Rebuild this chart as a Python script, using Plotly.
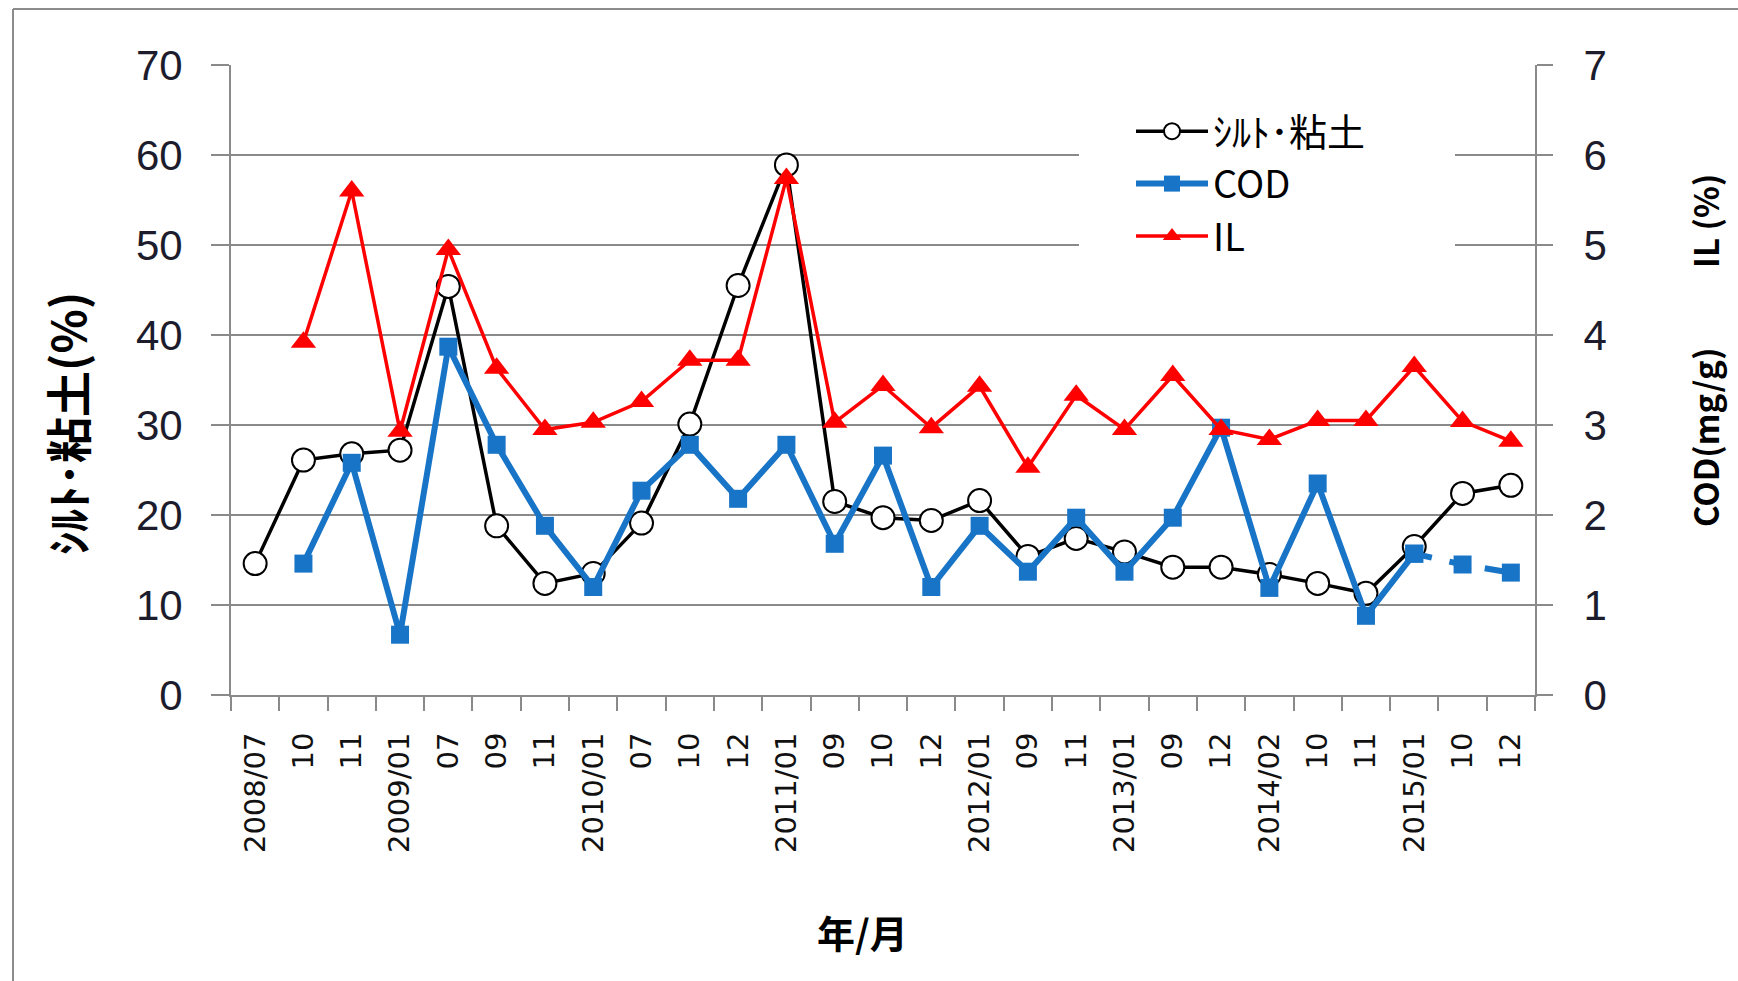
import plotly.graph_objects as go

DATES = ["2008/07", "2008/10", "2008/11", "2009/01", "2009/07", "2009/09", "2009/11",
         "2010/01", "2010/07", "2010/10", "2010/12", "2011/01", "2011/09", "2011/10",
         "2011/12", "2012/01", "2012/09", "2012/11", "2013/01", "2013/09", "2013/12",
         "2014/02", "2014/10", "2014/11", "2015/01", "2015/10", "2015/12"]
TICK_LABELS = ["2008/07", "10", "11", "2009/01", "07", "09", "11",
               "2010/01", "07", "10", "12", "2011/01", "09", "10",
               "12", "2012/01", "09", "11", "2013/01", "09", "12",
               "2014/02", "10", "11", "2015/01", "10", "12"]
SILT = [14.6, 26.1, 26.8, 27.2, 45.4, 18.8, 12.4, 13.5, 19.1, 30.1, 45.5, 58.9, 21.5, 19.7,
        19.4, 21.6, 15.4, 17.4, 15.9, 14.2, 14.2, 13.4, 12.4, 11.3, 16.5, 22.4, 23.3]
COD = [None, 1.46, 2.58, 0.67, 3.87, 2.78, 1.88, 1.20, 2.27, 2.78, 2.18, 2.78, 1.68, 2.66,
       1.20, 1.88, 1.37, 1.97, 1.37, 1.97, 2.97, 1.19, 2.35, 0.88, 1.57, 1.45, 1.36]
IL = [None, 3.92, 5.60, 2.93, 4.95, 3.63, 2.95, 3.03, 3.26, 3.72, 3.72, 5.74, 3.03, 3.44,
      2.97, 3.43, 2.53, 3.33, 2.95, 3.55, 2.95, 2.84, 3.05, 3.05, 3.65, 3.04, 2.82]
Y_LEFT_TICKS = [0, 10, 20, 30, 40, 50, 60, 70]
Y_RIGHT_TICKS = [0, 1, 2, 3, 4, 5, 6, 7]

DASH_FROM = DATES.index("2015/01")

W, H = 1738, 981
L, R, T, B = 231, 1738 - 1535, 65, 981 - 695
PW, PH = W - L - R, H - T - B


def px(xp):
    return (xp - L) / PW


def py(yp):
    return (T + PH - yp) / PH


fig = go.Figure()

fig.add_trace(go.Scatter(
    x=DATES, y=SILT, name="ｼﾙﾄ･粘土", mode="lines+markers", connectgaps=True,
    line=dict(color="#000000", width=3.5),
    marker=dict(symbol="circle", size=23, color="#ffffff", line=dict(color="#000000", width=2)),
    yaxis="y"))

fig.add_trace(go.Scatter(
    x=DATES[:DASH_FROM + 1], y=COD[:DASH_FROM + 1], name="COD", mode="lines+markers",
    line=dict(color="#1874c6", width=6),
    marker=dict(symbol="square", size=18, color="#1874c6"),
    yaxis="y2", legendgroup="cod"))
fig.add_trace(go.Scatter(
    x=DATES[DASH_FROM:], y=COD[DASH_FROM:], name="COD", mode="lines+markers",
    line=dict(color="#1874c6", width=6, dash="dash"),
    marker=dict(symbol="square", size=18, color="#1874c6"),
    yaxis="y2", legendgroup="cod", showlegend=False))

fig.add_trace(go.Scatter(
    x=DATES, y=IL, name="IL", mode="lines+markers",
    line=dict(color="#ff0000", width=3.5),
    marker=dict(symbol="triangle-up", size=22, color="#ff0000"),
    yaxis="y2"))

tick_font = dict(family="Liberation Sans, Arial", size=42, color="#1c1c2c")
axis_gray = "#8a8a8a"
title_font = dict(family="Noto Sans CJK JP", size=38, color="#000000", weight="bold")
right_title_font = dict(family="Noto Sans CJK JP", size=33, color="#000000", weight="bold")

fig.update_layout(
    width=W, height=H,
    margin=dict(l=L, r=R, t=T, b=B, pad=0),
    paper_bgcolor="#ffffff", plot_bgcolor="#ffffff",
    showlegend=True,
    legend=dict(
        x=px(1131), y=py(100), xanchor="left", yanchor="top",
        bgcolor="rgba(255,255,255,0)", borderwidth=0,
        font=dict(family="Noto Sans CJK JP, Liberation Sans", size=38, color="#000000"),
        itemwidth=72, tracegroupgap=0,
    ),
    xaxis=dict(
        type="category", categoryorder="array", categoryarray=DATES,
        tickmode="array", tickvals=DATES, ticktext=TICK_LABELS,
        tickson="boundaries", ticks="outside", ticklen=14, tickwidth=2, tickcolor=axis_gray,
        tickangle=-90,
        tickfont=dict(family="DejaVu Sans", size=29, color="#111111"),
        ticklabelstandoff=24,
        showline=True, linecolor=axis_gray, linewidth=2,
        showgrid=False, zeroline=False,
        range=[-0.5, len(DATES) - 0.5],
    ),
    yaxis=dict(
        range=[0, 70], tickmode="array", tickvals=Y_LEFT_TICKS,
        ticks="outside", ticklen=18, tickwidth=2, tickcolor=axis_gray,
        tickfont=tick_font, ticklabelstandoff=20,
        showline=True, linecolor=axis_gray, linewidth=2,
        showgrid=True, gridcolor=axis_gray, gridwidth=2, zeroline=False,
    ),
    yaxis2=dict(
        range=[0, 7], tickmode="array", tickvals=Y_RIGHT_TICKS,
        overlaying="y", side="right",
        ticks="outside", ticklen=16, tickwidth=2, tickcolor=axis_gray,
        tickfont=tick_font, ticklabelstandoff=22,
        showline=True, linecolor=axis_gray, linewidth=2,
        showgrid=False, zeroline=False,
    ),
    shapes=[
        # legend background (covers gridlines)
        dict(type="rect", xref="paper", yref="paper",
             x0=px(1079), x1=px(1455), y0=py(270), y1=py(100),
             line=dict(width=0), fillcolor="#ffffff", layer="above"),
        # chart frame (left and top edges visible)
        dict(type="line", xref="paper", yref="paper",
             x0=px(13), x1=px(13), y0=py(990), y1=py(9),
             line=dict(color="#8c8c8c", width=2)),
        dict(type="line", xref="paper", yref="paper",
             x0=px(13), x1=px(1745), y0=py(9), y1=py(9),
             line=dict(color="#8c8c8c", width=2)),
    ],
    annotations=[
        dict(text="ｼﾙﾄ･粘土(%)", xref="paper", yref="paper", x=px(66), y=py(424),
             textangle=-90, showarrow=False, xanchor="center", yanchor="middle",
             font=dict(family="Noto Sans CJK JP", size=46, color="#000000", weight="bold")),
        dict(text="IL (%)", xref="paper", yref="paper", x=px(1705), y=py(221),
             textangle=-90, showarrow=False, xanchor="center", yanchor="middle",
             font=right_title_font),
        dict(text="COD(mg/g)", xref="paper", yref="paper", x=px(1705), y=py(438),
             textangle=-90, showarrow=False, xanchor="center", yanchor="middle",
             font=right_title_font),
        dict(text="年/月", xref="paper", yref="paper", x=px(862), y=py(931),
             showarrow=False, xanchor="center", yanchor="middle",
             font=title_font),
    ],
)

fig.write_html("out.html")
